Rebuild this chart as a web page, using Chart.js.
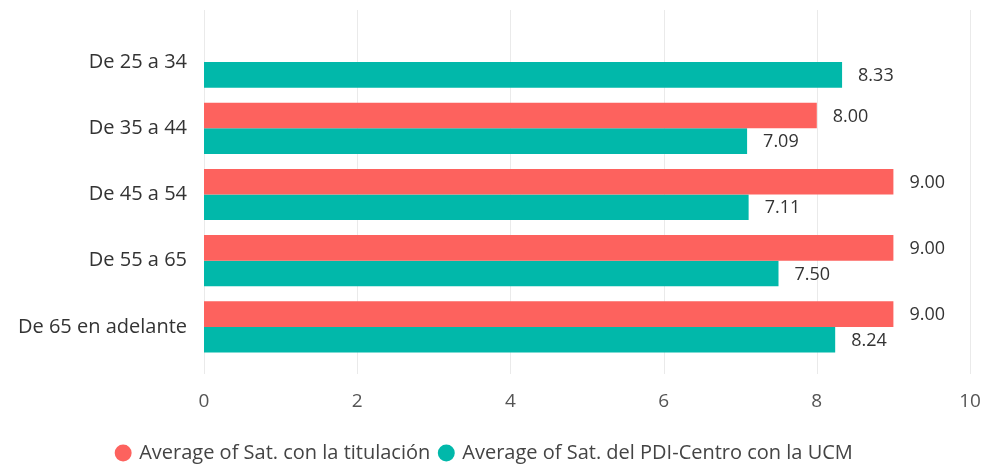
<!DOCTYPE html>
<html>
<head>
<meta charset="utf-8">
<script src="https://cdn.jsdelivr.net/npm/chart.js@4"></script>
<style>
  html, body { margin: 0; padding: 0; background: #fff; }
  #wrap { width: 984px; height: 465px; }
</style>
</head>
<body>
<div id="wrap"><canvas id="chart"></canvas></div>
<script>
// Chart data
const categories = ["De 25 a 34", "De 35 a 44", "De 45 a 54", "De 55 a 65", "De 65 en adelante"];
const satTitulacion = [null, 8.00, 9.00, 9.00, 9.00];
const satPdiCentro = [8.33, 7.09, 7.11, 7.50, 8.24];
const xTicks = [0, 2, 4, 6, 8, 10];

const FONT = "'Segoe UI', 'Open Sans', 'Noto Sans', sans-serif";

// vertical grid lines, a bit taller than the plot area like the original
const gridPlugin = {
  id: "gridLines",
  beforeDatasetsDraw(chart) {
    const ctx = chart.ctx;
    const xs = chart.scales.x;
    ctx.save();
    ctx.strokeStyle = "#EAEAEA";
    ctx.lineWidth = 1;
    xTicks.forEach(v => {
      const px = Math.round(xs.getPixelForValue(v)) + 0.5;
      ctx.beginPath();
      ctx.moveTo(px, chart.chartArea.top - 19);
      ctx.lineTo(px, chart.chartArea.bottom + 14);
      ctx.stroke();
    });
    ctx.restore();
  }
};

// value labels at the end of each bar
const labelPlugin = {
  id: "valueLabels",
  afterDatasetsDraw(chart) {
    const ctx = chart.ctx;
    ctx.save();
    ctx.font = "18px " + FONT;
    ctx.fillStyle = "#333333";
    ctx.textAlign = "left";
    ctx.textBaseline = "middle";
    chart.data.datasets.forEach((ds, i) => {
      chart.getDatasetMeta(i).data.forEach((bar, j) => {
        const v = ds.data[j];
        if (v == null) return;
        ctx.fillText(v.toFixed(2), bar.x + 16, bar.y + 1);
      });
    });
    ctx.restore();
  }
};

const ctx = document.getElementById("chart").getContext("2d");
new Chart(ctx, {
  type: "bar",
  data: {
    labels: categories,
    datasets: [
      {
        label: "Average of Sat. con la titulación",
        data: satTitulacion,
        backgroundColor: "#FD625E",
        categoryPercentage: 0.773,
        barPercentage: 1.0
      },
      {
        label: "Average of Sat. del PDI-Centro con la UCM",
        data: satPdiCentro,
        backgroundColor: "#01B8AA",
        categoryPercentage: 0.773,
        barPercentage: 1.0
      }
    ]
  },
  options: {
    indexAxis: "y",
    responsive: true,
    maintainAspectRatio: false,
    animation: false,
    layout: { padding: { top: 29, right: 14, left: 0, bottom: -8 } },
    scales: {
      x: {
        min: 0,
        max: 10,
        afterBuildTicks(scale) { scale.ticks = xTicks.map(v => ({ value: v })); },
        afterFit(scale) {
          scale.height = 73;
          scale.paddingLeft = 0;
          scale.paddingRight = 0;
        },
        grid: { display: false, drawTicks: false },
        border: { display: false },
        ticks: { padding: 30, color: "#555555", font: { family: FONT, size: 19 } }
      },
      y: {
        afterFit(scale) { scale.width = 204; },
        grid: { display: false, drawTicks: false },
        border: { display: false },
        ticks: { padding: 17, color: "#333333", font: { family: FONT, size: 20 } }
      }
    },
    plugins: {
      legend: {
        position: "bottom",
        labels: {
          usePointStyle: true,
          pointStyle: "circle",
          boxWidth: 12,
          boxHeight: 12,
          padding: 10,
          color: "#444444",
          font: { family: FONT, size: 20 }
        }
      },
      tooltip: { enabled: false }
    }
  },
  plugins: [gridPlugin, labelPlugin]
});
</script>
</body>
</html>
